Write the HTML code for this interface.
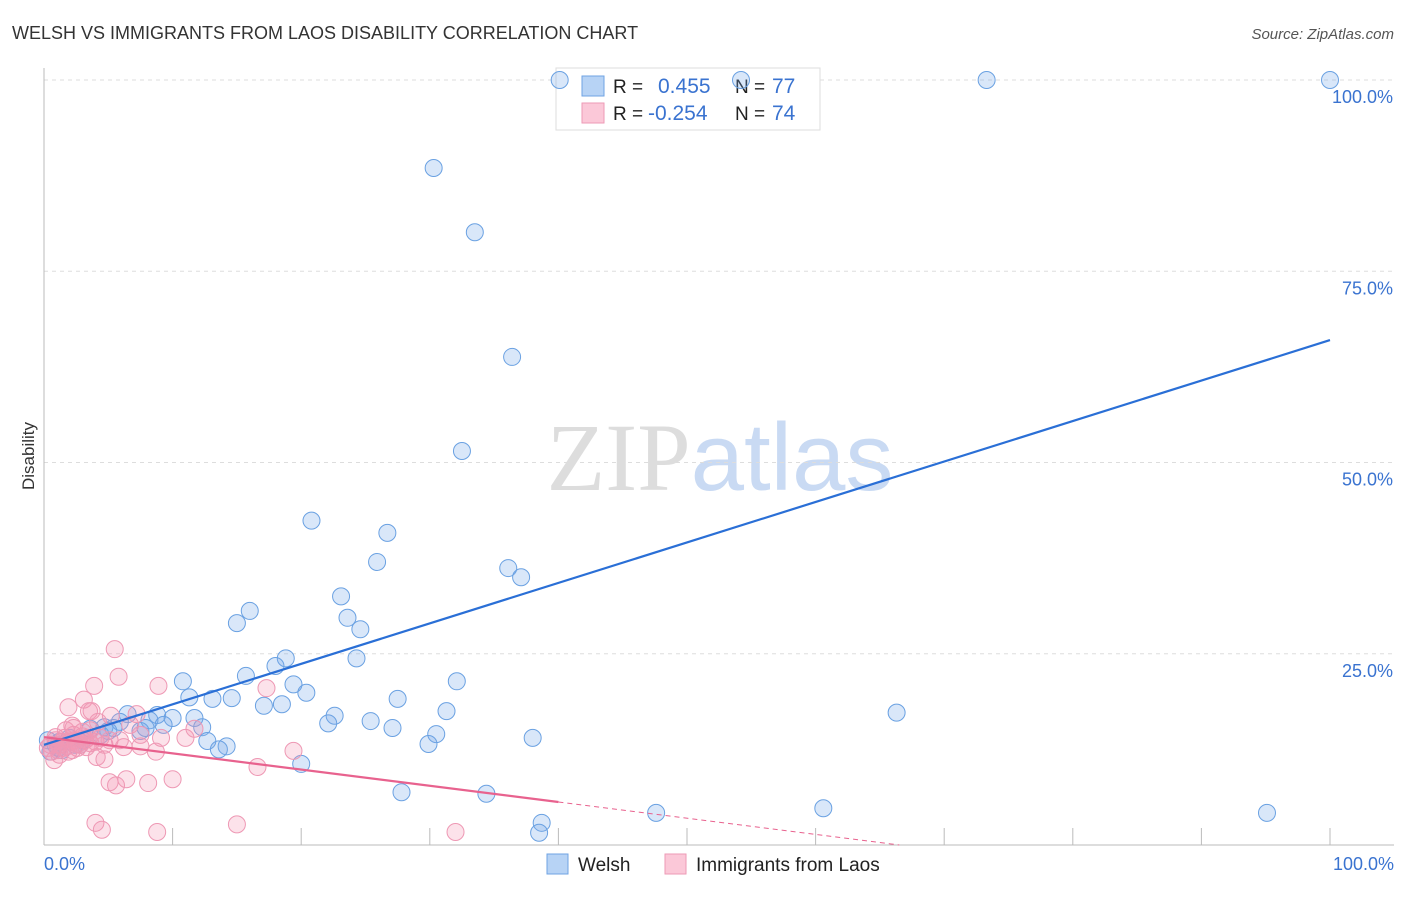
<!DOCTYPE html>
<html><head><meta charset="utf-8"><style>
body{margin:0;background:#fff;font-family:"Liberation Sans",sans-serif}
</style></head><body>
<svg id="c" width="1406" height="892" xmlns="http://www.w3.org/2000/svg" style="font-family:'Liberation Sans',sans-serif">
<text x="12" y="39" font-size="18" fill="#333">WELSH VS IMMIGRANTS FROM LAOS DISABILITY CORRELATION CHART</text>
<text x="1394" y="39" font-size="15" fill="#555" text-anchor="end" font-style="italic">Source: ZipAtlas.com</text>
<text transform="translate(34,456) rotate(-90)" font-size="17" fill="#333" text-anchor="middle">Disability</text>
<text x="720" y="490" font-size="96" text-anchor="middle"><tspan fill="#ddd" font-family="Liberation Serif">ZIP</tspan><tspan fill="#c9daf3">atlas</tspan></text>
<g id="grid"></g>
<g>
<rect x="556" y="68" width="264" height="62" fill="#fff" stroke="#ddd"/>
<rect x="582" y="76" width="22" height="20" fill="#b7d3f5" stroke="#6fa3e3"/>
<rect x="582" y="103" width="22" height="20" fill="#fbc8d8" stroke="#ee9ab6"/>
<text x="613" y="93" font-size="19" fill="#222">R =</text><text x="658" y="93" font-size="21" fill="#3a73d0">0.455</text>
<text x="735" y="93" font-size="19" fill="#222">N =</text><text x="772" y="93" font-size="21" fill="#3a73d0">77</text>
<text x="613" y="120" font-size="19" fill="#222">R =</text><text x="648" y="120" font-size="21" fill="#3a73d0">-0.254</text>
<text x="735" y="120" font-size="19" fill="#222">N =</text><text x="772" y="120" font-size="21" fill="#3a73d0">74</text>
</g>
<g id="pts"></g><g id="lines"></g>
<g>
<rect x="547" y="854" width="21" height="20" fill="#b7d3f5" stroke="#6fa3e3"/>
<text x="578" y="871" font-size="19" fill="#222">Welsh</text>
<rect x="665" y="854" width="21" height="20" fill="#fbc8d8" stroke="#ee9ab6"/>
<text x="696" y="871" font-size="19" fill="#222">Immigrants from Laos</text>
</g>
</svg>
<script>
const yTicks=[100,75,50,25];
const yTickLabels=["100.0%","75.0%","50.0%","25.0%"];
const xTickLabels=["0.0%","100.0%"];
const welshX=[40.1,54.2,73.3,100,30.3,33.5,36.4,32.5,20.8,26.7,25.9,36.1,37.1,16.0,23.1,15.0,23.6,24.6,18.8,24.3,15.7,18.0,10.8,32.1,19.4,20.4,11.3,13.1,14.6,17.1,18.5,27.5,31.3,66.3,8.8,6.5,10.0,11.7,8.2,22.6,22.1,25.4,5.9,12.3,9.3,4.7,27.1,3.6,5.0,7.5,30.5,38.0,12.7,29.9,14.2,13.6,20.0,27.8,34.4,38.7,38.5,47.6,60.6,95.1,0.3,0.9,1.2,2.0,2.4,3.0,0.5,1.4,4.4,2.8,5.4,7.9,1.1];
const welshY=[100,100,100,100,88.5,80.1,63.8,51.5,42.4,40.8,37.0,36.2,35.0,30.6,32.5,29.0,29.7,28.2,24.4,24.4,22.1,23.4,21.4,21.4,21.0,19.9,19.3,19.1,19.2,18.2,18.4,19.1,17.5,17.3,17.0,17.1,16.6,16.6,16.3,16.9,15.9,16.2,16.1,15.4,15.7,15.4,15.3,15.2,14.9,14.9,14.5,14.0,13.6,13.2,12.9,12.5,10.6,6.9,6.7,2.9,1.6,4.2,4.8,4.2,13.7,13.1,13.5,14.0,13.1,13.7,12.2,12.4,14.4,13.1,15.3,15.3,12.7];
const laosX=[5.5,5.8,3.9,8.9,17.3,3.1,1.9,3.5,3.7,5.2,7.2,2.2,4.2,11.0,11.7,9.1,19.4,6.2,4.1,7.5,8.7,4.7,16.6,10.0,8.1,6.4,5.1,5.6,4.0,4.5,8.8,15.0,32.0,0.5,0.9,1.2,1.6,2.0,2.4,2.8,3.2,3.6,0.6,1.1,1.5,1.9,2.3,2.6,3.0,3.4,0.3,0.9,1.4,1.8,2.2,2.6,3.0,3.3,4.0,4.4,4.7,6.7,5.9,7.5,1.7,2.3,1.2,0.8,3.6,5.1];
const laosY=[25.6,22.0,20.8,20.8,20.5,19.0,18.0,17.5,17.5,16.9,17.1,15.6,16.1,14.0,15.2,14.0,12.3,12.8,11.5,12.9,12.2,11.2,10.2,8.6,8.1,8.6,8.2,7.8,2.9,2.0,1.7,2.7,1.7,13.1,13.7,13.1,14.0,13.5,13.7,13.1,13.7,13.3,12.2,12.4,12.7,12.2,14.4,12.7,14.8,14.0,12.7,14.1,13.5,12.9,12.4,13.2,14.2,12.8,13.5,14.0,13.1,15.7,13.7,14.4,15.0,15.3,11.8,11.1,15.0,13.7];
const welshTrend=[13.1,66.0];
const laosTrend=[14.1,-0.212];
const NS="http://www.w3.org/2000/svg";
const xs=v=>44+v*12.86, ys=v=>845-v*7.65;
function mk(p,t,a){const e=document.createElementNS(NS,t);for(const k in a)e.setAttribute(k,a[k]);p.appendChild(e);return e;}
const grid=document.getElementById('grid');
yTicks.forEach((t,i)=>{
 const l=mk(grid,'line',{x1:44,x2:1394,y1:ys(t),y2:ys(t),stroke:'#ddd','stroke-dasharray':'4,4'});
 
 
 const tx=mk(grid,'text',{x:1393,y:ys(t)+23,'font-size':18,fill:'#3a73d0','text-anchor':'end'});
 tx.textContent=yTickLabels[i];
 
 
});
mk(grid,'line',{x1:44,x2:44,y1:68,y2:845,stroke:'#bbb'});
mk(grid,'line',{x1:44,x2:1394,y1:845,y2:845,stroke:'#bbb'});
for(let i=1;i<=10;i++){const t=mk(grid,'line',{x1:xs(i*10),x2:xs(i*10),y1:828,y2:845,stroke:'#bbb'});
 
 }
[[0,'start',44],[1,'end',1394]].forEach(([i,a,x])=>{const t=mk(grid,'text',{x:x,y:870,'font-size':18,fill:'#3a73d0','text-anchor':a});t.textContent=xTickLabels[i];
 
 });
const pts=document.getElementById('pts');
welshX.forEach((x,i)=>{const c=mk(pts,'circle',{cx:xs(x),cy:ys(welshY[i]),r:8.5,fill:'rgba(120,170,235,0.28)',stroke:'#6aa1e2','stroke-width':1});
 
 });
laosX.forEach((x,i)=>{const c=mk(pts,'circle',{cx:xs(x),cy:ys(laosY[i]),r:8.5,fill:'rgba(245,150,180,0.28)',stroke:'#ee98b4','stroke-width':1});
 
 });
const ln=document.getElementById('lines');
const w=mk(ln,'line',{x1:xs(0),y1:ys(welshTrend[0]),x2:xs(100),y2:ys(welshTrend[1]),stroke:'#2a6fd6','stroke-width':2.2});


const lp=v=>laosTrend[0]+laosTrend[1]*v;
const p1=mk(ln,'line',{x1:xs(0),y1:ys(lp(0)),x2:xs(40),y2:ys(lp(40)),stroke:'#e8628e','stroke-width':2.2});


const x0=-laosTrend[0]/laosTrend[1];
const p2=mk(ln,'line',{x1:xs(40),y1:ys(lp(40)),x2:xs(x0),y2:ys(0),stroke:'#e8628e','stroke-width':1,'stroke-dasharray':'5,4'});


</script>
</body></html>
